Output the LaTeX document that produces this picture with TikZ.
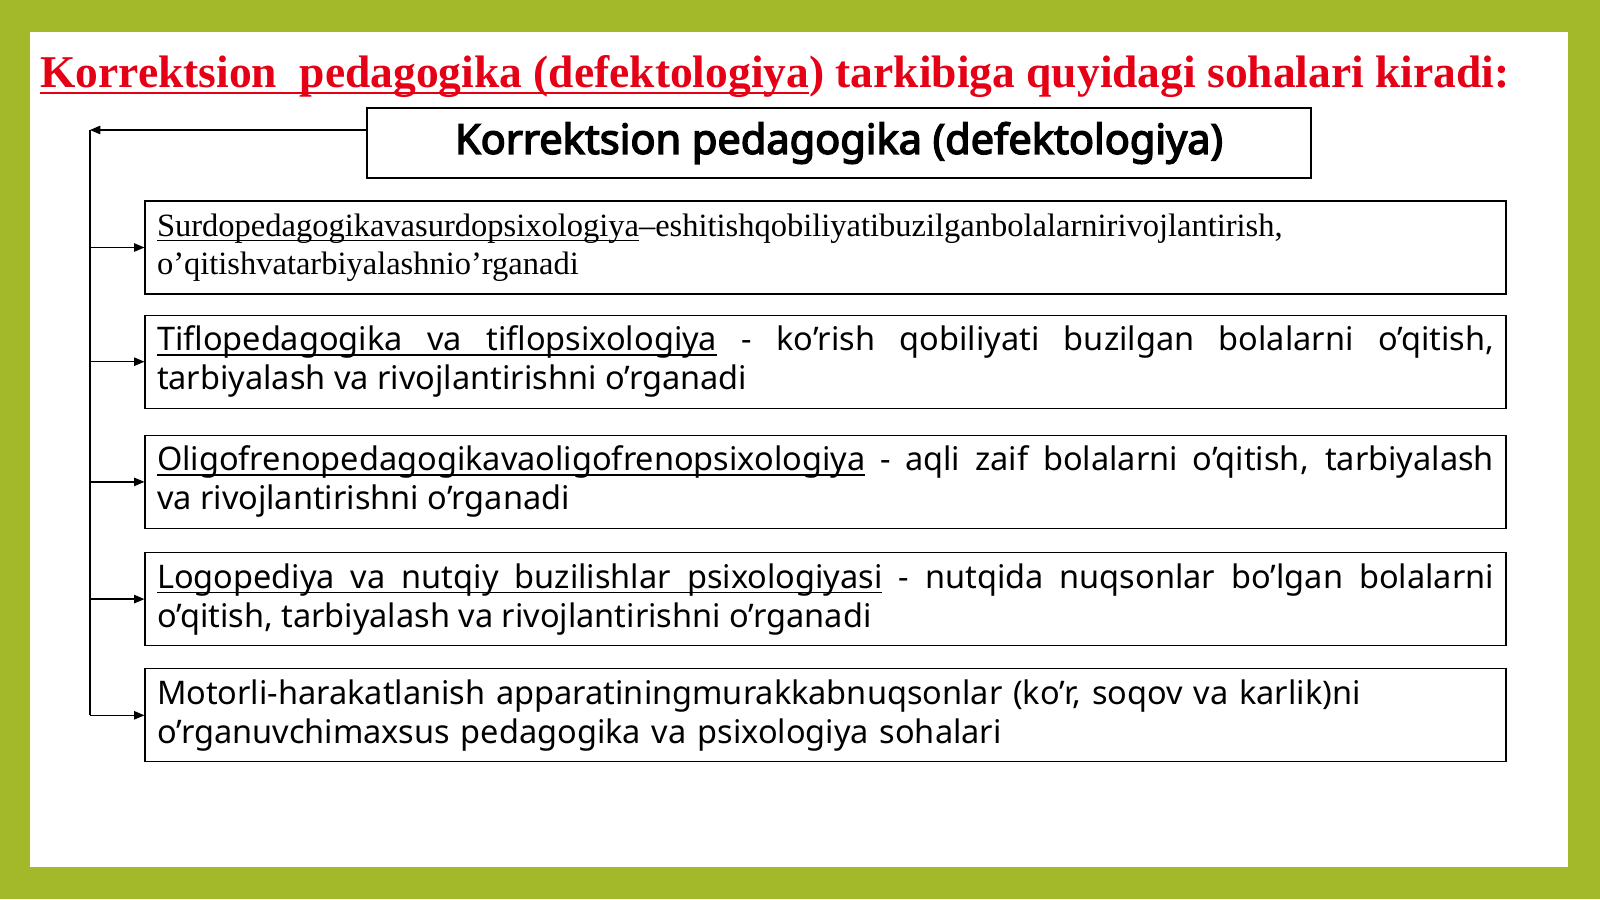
\documentclass[tikz,border=0pt]{standalone}
\usepackage{fontspec}
\setmainfont{Liberation Serif}
\newfontfamily\notosans{Noto Sans}
\newfontfamily\notobold{Noto Sans}[FakeBold=3.5]
\usepackage{tikz}
\usetikzlibrary{positioning}
\usetikzlibrary{arrows}
\definecolor{slidegreen}{RGB}{164,185,42}
\definecolor{titlered}{RGB}{230,0,22}
\tikzset{
every picture/.style=thick,
headbox/.style={rectangle, draw=black, line width=1.2pt, minimum width=944pt, minimum height=70pt, font=\notobold\fontsize{41.5pt}{46pt}\selectfont},
fieldbox/.style={rectangle, draw=black, line width=1.2pt, minimum width=1361pt, minimum height=93pt, text width=1337pt, inner xsep=12pt, align=justify, font=\notosans\fontsize{32.5pt}{39pt}\selectfont},
branch/.style={line width=1.4pt, -triangle 45}
}
% underline pieces: words and stretchable spaces
\def\ultop{3.5pt}
\def\ulbot{5pt}
\newcommand{\ulw}[1]{\setbox0\hbox{#1}\rlap{\vrule height -\ultop\space depth \ulbot\space width \wd0}\box0\relax}
\newcommand{\ulsp}{\leaders\vrule height -\ultop\space depth \ulbot\hskip\fontdimen2\font plus \fontdimen3\font minus \fontdimen4\font}

\begin{document}
\hyphenpenalty=10000
\exhyphenpenalty=10000
\begin{tikzpicture}[node distance=22pt and 0pt]
\useasboundingbox (0,0) rectangle (1600pt,-899pt);
\fill[slidegreen] (0,0) rectangle (1600pt,-899pt);
\fill[white] (30pt,-32pt) rectangle (1568pt,-867pt);
%Nodes
\node (title) [anchor=base west, inner sep=0pt, text=titlered, font=\bfseries\fontsize{45.5pt}{50pt}\selectfont] at (40pt,-88pt)
  {\def\ultop{4pt}\def\ulbot{6.5pt}\ulw{Korrektsion\ \ pedagogika (defektologiya}) tarkibiga quyidagi sohalari kiradi:};
\node (defekt) [headbox] at (839pt,-143pt) {Korrektsion pedagogika (defektologiya)};
\node (surdo) [fieldbox, align=left, font=\fontsize{32.5pt}{38pt}\selectfont] at (825.5pt,-247.5pt)
  {\ulw{Surdopedagogikavasurdopsixologiya}–eshitishqobiliyatibuzilganbolalarnirivojlantirish,\\o’qitishvatarbiyalashnio’rganadi};
\node (tiflo) [fieldbox, below=20pt of surdo]
  {\ulw{Tiflopedagogika}\ulsp\ulw{va}\ulsp\ulw{tiflopsixologiya} - ko’rish qobiliyati buzilgan bolalarni o’qitish, tarbiyalash va rivojlantirishni o’rganadi};
\node (oligo) [fieldbox, below=26pt of tiflo]
  {\ulw{Oligofrenopedagogikavaoligofrenopsixologiya} - aqli zaif bolalarni o’qitish, tarbiyalash\linebreak va rivojlantirishni o’rganadi};
\node (logo) [fieldbox, below=23pt of oligo]
  {\ulw{Logopediya}\ulsp\ulw{va}\ulsp\ulw{nutqiy}\ulsp\ulw{buzilishlar}\ulsp\ulw{psixologiyasi} - nutqida nuqsonlar bo’lgan bolalarni o’qitish, tarbiyalash va rivojlantirishni o’rganadi};
\node (motor) [fieldbox, below=of logo, align=left]
  {Motorli-harakatlanish apparatiningmurakkabnuqsonlar (ko’r, soqov va karlik)ni\\o’rganuvchimaxsus pedagogika va psixologiya sohalari};
\coordinate (trunk) at (90pt,-130pt);

%Lines
\draw[branch] (defekt.west |- trunk) -- (trunk);
\draw[line width=1.4pt] (trunk) -- (trunk |- motor.west);
\foreach \field in {surdo,tiflo,oligo,logo,motor}
  \draw[branch] (trunk |- \field.west) -- (\field.west);
\end{tikzpicture}
\end{document}
